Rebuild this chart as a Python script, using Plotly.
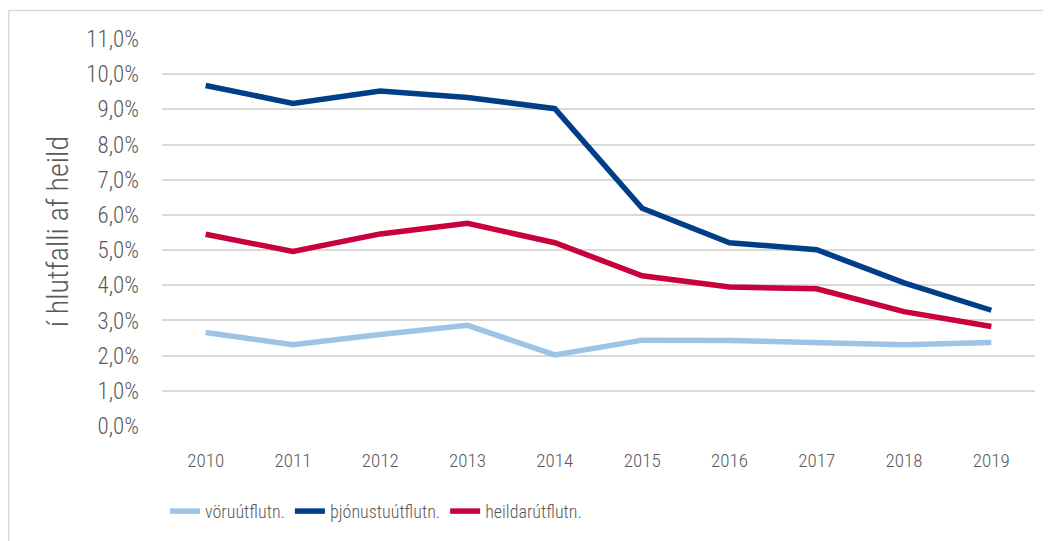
import plotly.graph_objects as go

years = ["2010", "2011", "2012", "2013", "2014", "2015", "2016", "2017", "2018", "2019"]
voru = [2.66, 2.31, 2.60, 2.86, 2.02, 2.44, 2.43, 2.37, 2.31, 2.37]
thjonustu = [9.68, 9.17, 9.52, 9.34, 9.02, 6.19, 5.21, 5.01, 4.07, 3.29]
heildar = [5.45, 4.96, 5.46, 5.76, 5.21, 4.27, 3.95, 3.90, 3.25, 2.83]
series_names = ["vöruútflutn.", "þjónustuútflutn.", "heildarútflutn."]
y_ticks = [0, 1, 2, 3, 4, 5, 6, 7, 8, 9, 10, 11]
y_tick_labels = [f"{v},0%" for v in y_ticks]

colors = ["#9DC3E6", "#003F87", "#C8003C"]
FONT = "Roboto Condensed, Liberation Sans Narrow, Roboto, sans-serif"
GRAY = "#595959"

# page has an 8px body margin; work in page pixels and convert
OFF = 8
W, H = 1051 - OFF, 541 - OFF
plot_l, plot_r, plot_t, plot_b = 162, 1035, 39, 427.5  # page pixels
ml, mr = plot_l - OFF, (W + OFF) - plot_r
mt, mb = plot_t - OFF, (H + OFF) - plot_b
pw, ph = W - ml - mr, H - mt - mb

fig = go.Figure()
for name, vals, c in zip(series_names, [voru, thjonustu, heildar], colors):
    fig.add_trace(go.Scatter(x=years, y=vals, mode="lines", name=name,
                             line=dict(color=c, width=5.5), hoverinfo="skip"))

def px_x(p):
    return (p - plot_l) / pw

def px_y(p):
    return (plot_b - p) / ph

fig.update_layout(
    width=W, height=H,
    margin=dict(l=ml, r=mr, t=mt, b=mb),
    paper_bgcolor="white", plot_bgcolor="white",
    font=dict(family=FONT, color=GRAY, size=19, weight=300),
    showlegend=True,
    legend=dict(orientation="h", x=px_x(165), xanchor="left", y=px_y(512), yanchor="middle",
                font=dict(family=FONT, size=18, color=GRAY, weight=300),
                bgcolor="rgba(0,0,0,0)", itemwidth=30, tracegroupgap=0),
    xaxis=dict(type="category", range=[-0.5, 9.5], showgrid=False, zeroline=False,
               showline=False, ticks="", tickfont=dict(size=19, color=GRAY),
               ticklabelstandoff=21, fixedrange=True),
    yaxis=dict(range=[0, 11], tickvals=y_ticks, ticktext=y_tick_labels,
               showgrid=True, gridcolor="#D9D9D9", gridwidth=1.5, zeroline=False,
               showline=False, ticks="", tickfont=dict(size=23, color=GRAY),
               ticklabelstandoff=22, fixedrange=True),
    shapes=[dict(type="rect", xref="paper", yref="paper",
                 x0=px_x(OFF + 0.8), x1=px_x(1070), y0=px_y(10.5), y1=px_y(580),
                 line=dict(color="#D9D9D9", width=1.5), fillcolor="rgba(0,0,0,0)", layer="below")],
    annotations=[dict(text="í hlutfalli af heild", xref="paper", yref="paper",
                      x=px_x(57), y=px_y(233), xanchor="center", yanchor="middle",
                      textangle=-90, showarrow=False,
                      font=dict(family=FONT, size=30, color=GRAY, weight=300))],
)

fig.write_html("out.html", config={"displayModeBar": False})
